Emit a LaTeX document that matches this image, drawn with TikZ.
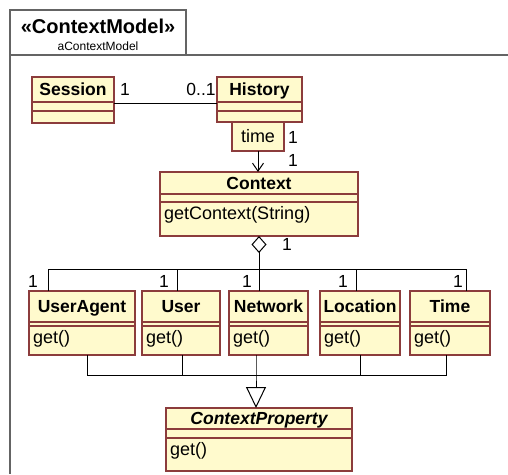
\documentclass[tikz,border=0pt]{standalone}
\usepackage{fontspec}
\setmainfont{Liberation Sans}
\usetikzlibrary{arrows.meta,calc}
\definecolor{clsfill}{RGB}{255,250,205}
\definecolor{clsborder}{RGB}{140,60,60}
\definecolor{pkgline}{RGB}{100,100,100}
\tikzset{
  clsbox/.style={draw=clsborder, fill=clsfill, line width=1.1pt, inner sep=0pt, outer sep=0pt, rectangle},
  clsline/.style={draw=clsborder, line width=1.1pt},
  clstitle/.style={font=\bfseries\fontsize{17.5}{20}\selectfont, inner sep=0pt, anchor=base},
  clsop/.style={font=\fontsize{18}{21}\selectfont, inner sep=0pt, anchor=base west},
  mult/.style={font=\fontsize{17.5}{20}\selectfont, inner sep=0pt},
  conn/.style={draw=black, line width=1pt},
  pkgtab/.style={draw=pkgline, line width=1.3pt, fill=white, inner sep=0pt, outer sep=0pt},
  pkgframe/.style={draw=pkgline, line width=2pt},
}
% #1 name, #2 x1, #3 y1, #4 x2, #5 y2, #6 sep1, #7 sep2, #8 title, #9 operation
\newcommand\UMLclass[9]{%
  \node[clsbox, anchor=north west, minimum width={#4-#2}, minimum height={#5-#3}] (#1) at (#2,#3) {};
  \draw[clsline] (#2,#6) -- (#4,#6) (#2,#7) -- (#4,#7);
  \node[clstitle] (#1-title) at ({(#2+#4)/2},{(#3+#6)/2+6}) {#8};
  \node[clsop] (#1-op) at ({#2+4},{#7+17}) {#9};
}
\begin{document}
\begin{tikzpicture}[x=1pt,y=-1pt]
\useasboundingbox (0,0) rectangle (508,474);
\fill[white] (0,0) rectangle (508,474);
% package frame
\node[pkgtab, anchor=north west, minimum width=176, minimum height=45] (pkgtab) at (10,10) {};
\node[font=\bfseries\fontsize{20}{24}\selectfont, inner sep=0pt, anchor=base] (stereo) at (98,33) {«ContextModel»};
\node[font=\fontsize{12}{14}\selectfont, inner sep=0pt, anchor=base] (pkgname) at (98,50) {aContextModel};
\draw[pkgframe] (508,55) -- (10,55) -- (10,474);
% classes
\UMLclass{session}{32}{77}{114}{123}{102}{111}{Session}{}
\UMLclass{history}{217}{77}{302}{122}{102}{111}{History}{}
\UMLclass{context}{160}{172}{358}{236}{194}{202}{Context}{getContext(String)}
\UMLclass{useragent}{29}{291}{135}{355}{322}{326}{UserAgent}{get()}
\UMLclass{user}{142}{291}{220}{355}{322}{326}{User}{get()}
\UMLclass{network}{229}{291}{308}{355}{322}{326}{Network}{get()}
\UMLclass{location}{320}{291}{400}{355}{322}{326}{Location}{get()}
\UMLclass{time}{410}{291}{490}{355}{322}{326}{Time}{get()}
\UMLclass{cprop}{166}{408}{352}{471}{429}{438}{\itshape ContextProperty}{get()}
% qualifier
\node[clsbox, anchor=north west, minimum width=52, minimum height=29] (quali) at (232,122) {};
\node[clsop, anchor=base] (qualitext) at (258,142) {time};
% Session -- History
\draw[conn] ($(session.north east)+(0,26)$) -- ($(history.north west)+(0,26)$);
\node[mult] (m-s) at (125,89) {1};
\node[mult] (m-h) at (201,89) {0..1};
% History -> Context
\draw[conn, -{Straight Barb[length=8pt,width=11pt]}] (quali.south) -- (quali.south |- context.north);
\node[mult] (m-q1) at (293,137) {1};
\node[mult] (m-q2) at (293,160) {1};
% aggregation
\coordinate (aggbus) at (259,269);
\draw[conn, {Diamond[open,length=17pt,width=15pt]}-] (context.south) -- (aggbus);
\node[mult] (m-c) at (287,244) {1};
\draw[conn] (aggbus) -| ($(useragent.north west)+(19,0)$);
\draw[conn] (aggbus) -| ($(user.north west)+(35,0)$);
\draw[conn] (aggbus) -- ($(network.north west)+(30,0)$);
\draw[conn] (aggbus) -| ($(location.north west)+(36,0)$);
\draw[conn] (aggbus) -| ($(time.north west)+(56,0)$);
\node[mult] (m-ua) at (33,281) {1};
\node[mult] (m-us) at (164,281) {1};
\node[mult] (m-nw) at (247,281) {1};
\node[mult] (m-lo) at (343,281) {1};
\node[mult] (m-ti) at (458,281) {1};
% generalization
\coordinate (genbus) at (256,375);
\draw[conn] ($(useragent.south west)+(58,0)$) |- (genbus);
\draw[conn] ($(user.south west)+(40,0)$) |- (genbus);
\draw[conn] ($(location.south west)+(40,0)$) |- (genbus);
\draw[conn] ($(time.south west)+(36,0)$) |- (genbus);
\draw[conn, -{Triangle[open,length=21pt,width=20pt]}] ($(network.south west)+(27,0)$) -- (genbus) -- ($(cprop.north west)+(90,0)$);
\end{tikzpicture}
\end{document}
